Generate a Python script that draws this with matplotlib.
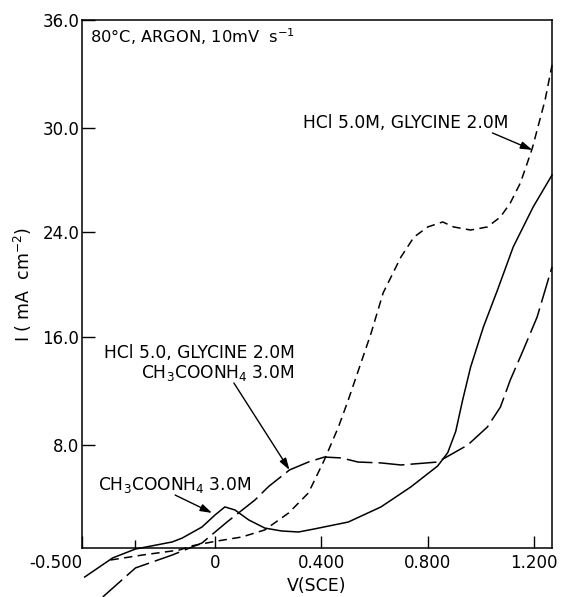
import matplotlib
matplotlib.use('Agg')
import matplotlib.pyplot as plt

# potential V(SCE) and current (axis units)
v_acetate = [-0.490, -0.385, -0.299, -0.161, -0.123, -0.049, 0.0, 0.037, 0.075, 0.127,
             0.187, 0.250, 0.314, 0.374, 0.501, 0.624, 0.736, 0.837, 0.875, 0.905,
             0.931, 0.961, 1.009, 1.062, 1.121, 1.196, 1.267]
i_acetate = [-1.98, -0.68, -0.07, 0.41, 0.68, 1.43, 2.25, 2.80, 2.59, 1.91,
             1.36, 1.16, 1.09, 1.30, 1.77, 2.80, 4.16, 5.59, 6.50, 7.95,
             10.09, 12.34, 15.07, 17.59, 20.52, 23.25, 25.43]

v_glycine = [-0.393, -0.273, -0.135, -0.086, 0.0, 0.101, 0.187, 0.277, 0.351, 0.411,
             0.464, 0.501, 0.587, 0.632, 0.699, 0.748, 0.800, 0.856, 0.897, 0.961,
             1.024, 1.073, 1.110, 1.148, 1.174, 1.193, 1.241, 1.267]
i_glycine = [-0.82, -0.48, -0.14, 0.15, 0.45, 0.75, 1.23, 2.39, 3.75, 6.00,
             8.25, 10.09, 14.66, 17.39, 19.84, 21.20, 21.89, 22.23, 21.89, 21.68,
             21.89, 22.57, 23.52, 24.89, 26.25, 27.27, 30.55, 32.93]

v_mixture = [-0.422, -0.299, -0.161, -0.049, 0.045, 0.150, 0.202, 0.280, 0.351, 0.411,
             0.475, 0.538, 0.624, 0.699, 0.837, 0.950, 1.024, 1.073, 1.110, 1.159,
             1.211, 1.249, 1.267]
i_mixture = [-3.34, -1.36, -0.48, 0.34, 1.77, 3.27, 4.20, 5.32, 5.86, 6.20,
             6.14, 5.86, 5.80, 5.66, 5.86, 7.02, 8.25, 9.61, 11.45, 13.50,
             15.75, 18.07, 19.16]

x_ticks = [-0.5, 0.0, 0.4, 0.8, 1.2]
x_labels = ['-0.500', '0', '0.400', '0.800', '1.200']
y_ticks = [7.02, 14.39, 21.55, 28.64, 36.0]
y_labels = ['8.0', '16.0', '24.0', '30.0', '36.0']

plt.rcParams['font.family'] = ['DejaVu Sans']
plt.rcParams['mathtext.fontset'] = 'dejavusans'

fig = plt.figure(figsize=(5.61, 5.97), dpi=100)
ax = fig.add_axes([0.1462, 0.0821, 0.8378, 0.8844])
ax.set_xlim(-0.5, 1.267)
ax.set_ylim(0, 36)

line_kw = dict(color='black', lw=1.1, clip_on=False, solid_joinstyle='round',
               dash_joinstyle='round')
ax.plot(v_acetate, i_acetate, **line_kw)
ax.plot(v_glycine, i_glycine, dashes=(5.5, 3.5), **line_kw)
ax.plot(v_mixture, i_mixture, dashes=(17, 4), **line_kw)

ax.set_xticks(x_ticks)
ax.set_xticklabels(x_labels)
ax.set_xticks([-0.3], minor=True)
ax.set_yticks(y_ticks)
ax.set_yticklabels(y_labels)
ax.tick_params(direction='in', length=9, width=1, labelsize=12, pad=2)
ax.tick_params(axis='x', which='minor', direction='in', length=6, width=1)
ax.tick_params(axis='x', pad=4)
ax.get_xticklabels()[0].set_horizontalalignment('right')
for s in ax.spines.values():
    s.set_linewidth(1.1)

ax.set_xlabel('V(SCE)', fontsize=12.5, labelpad=4)
ax.set_ylabel(r'I ( mA  cm$^{-2}$)', fontsize=12.5, labelpad=6)

ax.text(0.017, 0.968, r'80°C, ARGON, 10mV  s$^{-1}$', transform=ax.transAxes,
        fontsize=11.7, va='center', ha='left')

arrow = dict(arrowstyle='-|>,head_length=0.7,head_width=0.22', color='black', lw=1.0,
             shrinkA=0, shrinkB=0)
fs = 12.3

ax.text(0.329, 28.98, 'HCl 5.0M, GLYCINE 2.0M', fontsize=fs, va='center', ha='left')
ax.annotate('', xy=(1.193, 27.14), xytext=(1.043, 28.30), arrowprops=arrow)

ax.text(0.299, 13.30, 'HCl 5.0, GLYCINE 2.0M', fontsize=fs, va='center', ha='right')
ax.text(0.299, 11.93, r'CH$_3$COONH$_4$ 3.0M', fontsize=fs, va='center', ha='right')
ax.annotate('', xy=(0.280, 5.32), xytext=(0.071, 11.25), arrowprops=arrow)

ax.text(-0.441, 4.30, r'CH$_3$COONH$_4$ 3.0M', fontsize=fs, va='center', ha='left')
ax.annotate('', xy=(-0.011, 2.39), xytext=(-0.150, 3.61), arrowprops=arrow)

fig.savefig('out.png', dpi=100)
